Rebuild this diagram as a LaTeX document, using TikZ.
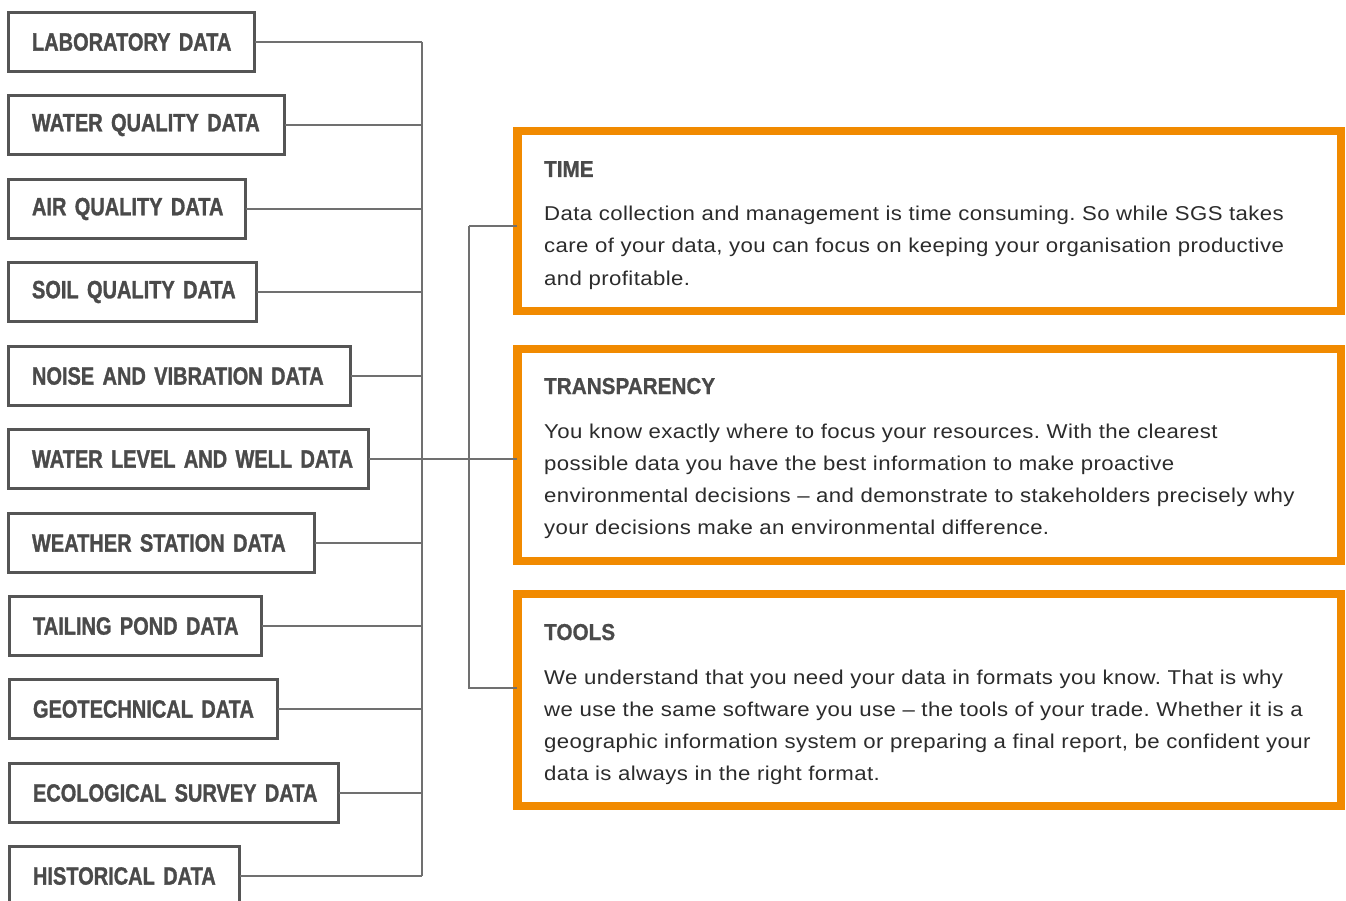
\documentclass[tikz,border=0pt]{standalone}
\usepackage{fontspec}
\setmainfont{Liberation Sans}
\newfontfamily\labelfont[FakeStretch=0.8,FakeBold=1.2,WordSpace=0.7]{Liberation Sans Bold}
\newfontfamily\titlefont[FakeStretch=0.9,FakeBold=0.8]{Liberation Sans Bold}
\newfontfamily\bodyfont[FakeStretch=1.11,LetterSpace=2]{Liberation Sans}
\definecolor{boxgrey}{RGB}{85,85,85}
\definecolor{linegrey}{RGB}{112,112,112}
\definecolor{sgsorange}{RGB}{241,138,0}
\definecolor{labeltext}{RGB}{74,74,74}
\definecolor{bodytext}{RGB}{43,43,43}
\tikzset{
  databox/.style={draw=boxgrey, line width=3pt, anchor=north west, inner xsep=23.5pt, inner ysep=0pt,
    outer sep=0pt, minimum height=59pt, align=left, text=labeltext,
    font=\labelfont\fontsize{25}{28}\selectfont},
  infobox/.style={draw=sgsorange, line width=8.5pt, anchor=north west, outer sep=0pt,
    minimum width=823.75pt},
  conn/.style={draw=linegrey, line width=1.3pt},
  infotitle/.style={anchor=base west, inner sep=0pt, text=labeltext,
    font=\titlefont\fontsize{23}{28}\selectfont},
  infobody/.style={anchor=base west, inner sep=0pt, align=left, text=bodytext,
    font=\bodyfont\fontsize{20}{32}\selectfont\frenchspacing},
}
\begin{document}
\begin{tikzpicture}[x=1pt,y=-1pt]
\useasboundingbox (0,0) rectangle (1346,901);
\clip (0,0) rectangle (1346,901);
\fill[white] (0,0) rectangle (1346,901);
% data boxes
\node[databox, text width=199pt] (L1) at (8.5,12.5) {\mbox{LABORATORY DATA}};
\node[databox, text width=229pt] (L2) at (8.5,95.5) {\mbox{WATER QUALITY DATA}};
\node[databox, text width=190pt] (L3) at (8.5,179.5) {\mbox{AIR QUALITY DATA}};
\node[databox, text width=201pt] (L4) at (8.5,262.5) {\mbox{SOIL QUALITY DATA}};
\node[databox, text width=295pt] (L5) at (8.5,346.5) {\mbox{NOISE AND VIBRATION DATA}};
\node[databox, text width=313pt] (L6) at (8.5,429.5) {\mbox{WATER LEVEL AND WELL DATA}};
\node[databox, text width=259pt] (L7) at (8.5,513.5) {\mbox{WEATHER STATION DATA}};
\node[databox, text width=205pt] (L8) at (9.5,596.5) {\mbox{TAILING POND DATA}};
\node[databox, text width=221pt] (L9) at (9.5,679.5) {\mbox{GEOTECHNICAL DATA}};
\node[databox, text width=282pt] (L10) at (9.5,763.5) {\mbox{ECOLOGICAL SURVEY DATA}};
\node[databox, text width=183pt] (L11) at (9.5,846.5) {\mbox{HISTORICAL DATA}};
% info boxes
\node[infobox, minimum height=180pt] (T1) at (517.25,131) {};
\node[infobox, minimum height=212pt] (T2) at (517.25,349) {};
\node[infobox, minimum height=212pt] (T3) at (517.25,594) {};
% connectors
\coordinate (busx) at (422,0);
\coordinate (j1) at (469,226);
\coordinate (j3) at (469,688);
\foreach \n in {L1,L2,L3,L4,L5,L7,L8,L9,L10,L11}
  \draw[conn] (\n.east) -- (\n.east -| busx);
\draw[conn] (L1.east -| busx) -- (L11.east -| busx);
\draw[conn] (L6.east) -- (L6.east -| T2.west);
\draw[conn] (j1) -- (j1 -| T1.west);
\draw[conn] (j1) -- (j3) -- (j3 -| T3.west);
% texts (body nodes anchored at the baseline of their last line)
\node[infotitle] (t1) at (544,177) {TIME};
\node[infobody] (b1) at (544,285) {Data collection and management is time consuming. So while SGS takes\\
care of your data, you can focus on keeping your organisation productive\\
and profitable.};
\node[infotitle] (t2) at (544,394) {TRANSPARENCY};
\node[infobody] (b2) at (544,534) {You know exactly where to focus your resources. With the clearest\\
possible data you have the best information to make proactive\\
environmental decisions – and demonstrate to stakeholders precisely why\\
your decisions make an environmental difference.};
\node[infotitle] (t3) at (544,640) {TOOLS};
\node[infobody] (b3) at (544,780) {We understand that you need your data in formats you know. That is why\\
we use the same software you use – the tools of your trade. Whether it is a\\
geographic information system or preparing a final report, be confident your\\
data is always in the right format.};
\end{tikzpicture}
\end{document}
